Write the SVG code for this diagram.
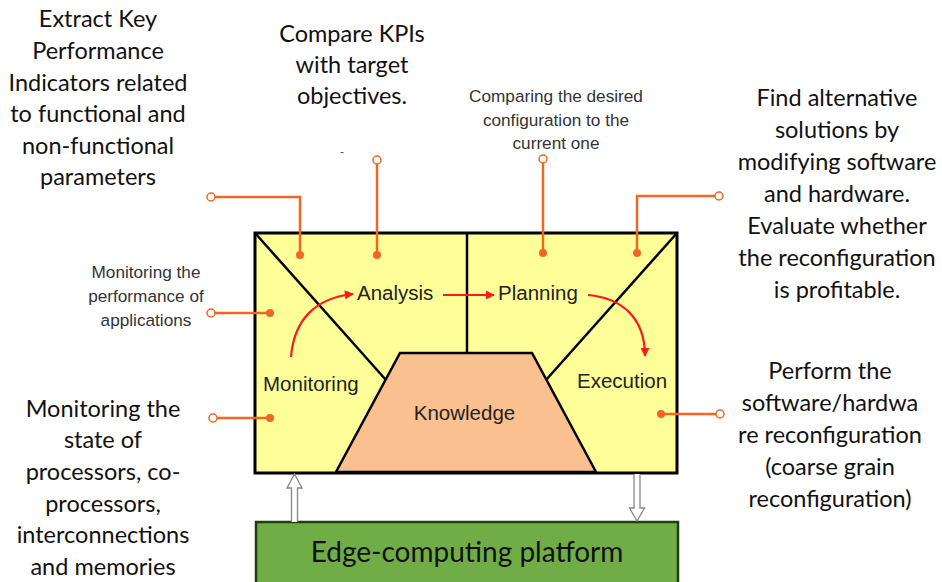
<svg xmlns="http://www.w3.org/2000/svg" width="942" height="582" viewBox="0 0 942 582">
<style>
.big{font-family:Lato,"Open Sans","Liberation Sans",sans-serif;font-size:23.5px;fill:#111;text-anchor:middle}
.small{font-family:"Liberation Sans",Arial,sans-serif;font-size:17.2px;fill:#333;text-anchor:middle}
.lbl{font-family:"Liberation Sans",Arial,sans-serif;font-size:20.5px;fill:#222}
.co{stroke:#F26522;stroke-width:2.5;fill:none}
.dot{fill:#F26522}
.oc{fill:#fff;stroke:#F26522;stroke-width:1.5}
.red{stroke:#FF1A1A;stroke-width:2.2;fill:none;marker-end:url(#ah)}
.hol{fill:#fff;stroke:#888;stroke-width:1.3}
</style>
<defs>
<marker id="ah" viewBox="0 0 10 10" refX="9" refY="5" markerWidth="11" markerHeight="9" markerUnits="userSpaceOnUse" orient="auto">
<path d="M0,0 L10,5 L0,10 z" fill="#FF1A1A"/>
</marker>
</defs>
<rect width="942" height="582" fill="#fff"/>

<g id="mape">
<rect x="255" y="233" width="422" height="240" fill="#FFFF99" stroke="#000" stroke-width="3"/>
<line x1="467" y1="233" x2="467" y2="353" stroke="#000" stroke-width="2.5"/>
<line x1="255" y1="233" x2="386" y2="380" stroke="#000" stroke-width="2.5"/>
<line x1="677" y1="233" x2="546" y2="380" stroke="#000" stroke-width="2.5"/>
</g>
<g id="knowledge">
<polygon points="400,353 532,353 596,472 336,472" fill="#FAC090" stroke="#000" stroke-width="2.5"/>
<text class="lbl" x="464.5" y="420" text-anchor="middle">Knowledge</text>
</g>
<g id="analysis"><text class="lbl" x="357" y="300">Analysis</text></g>
<g id="planning"><text class="lbl" x="498" y="300">Planning</text></g>
<g id="monitoring"><text class="lbl" x="263" y="391">Monitoring</text></g>
<g id="execution"><text class="lbl" x="577" y="388">Execution</text></g>

<g id="platform">
<rect x="256" y="522" width="422" height="64" fill="#70AD47" stroke="#1F3D10" stroke-width="2.5"/>
<text x="467" y="562" font-family="Lato,'Open Sans','Liberation Sans',sans-serif" font-size="28" fill="#111" text-anchor="middle">Edge-computing platform</text>
</g>

<g id="note-kpi">
<text class="big" x="98" y="27">Extract Key</text>
<text class="big" x="98" y="59">Performance</text>
<text class="big" x="98" y="91">Indicators related</text>
<text class="big" x="98" y="122">to functional and</text>
<text class="big" x="98" y="154">non-functional</text>
<text class="big" x="98" y="185">parameters</text>
</g>
<g id="note-compare">
<text class="big" x="352" y="42">Compare KPIs</text>
<text class="big" x="352" y="73">with target</text>
<text class="big" x="352" y="104">objectives.</text>
<text x="342" y="156" font-family="Liberation Sans,sans-serif" font-size="12" fill="#555" text-anchor="middle">-</text>
</g>
<g id="note-desired">
<text class="small" x="556" y="102">Comparing the desired</text>
<text class="small" x="556" y="126">configuration to the</text>
<text class="small" x="556" y="149">current one</text>
</g>
<g id="note-alt">
<text class="big" x="837" y="106">Find alternative</text>
<text class="big" x="837" y="138">solutions by</text>
<text class="big" x="837" y="170">modifying software</text>
<text class="big" x="837" y="202">and hardware.</text>
<text class="big" x="837" y="234">Evaluate whether</text>
<text class="big" x="837" y="266">the reconfiguration</text>
<text class="big" x="837" y="298">is profitable.</text>
</g>
<g id="note-perform">
<text class="big" x="830" y="379">Perform the</text>
<text class="big" x="830" y="411">software/hardwa</text>
<text class="big" x="830" y="443">re reconfiguration</text>
<text class="big" x="830" y="475">(coarse grain</text>
<text class="big" x="830" y="507">reconfiguration)</text>
</g>
<g id="note-perf">
<text class="small" x="146" y="278">Monitoring the</text>
<text class="small" x="146" y="302">performance of</text>
<text class="small" x="146" y="326">applications</text>
</g>
<g id="note-state">
<text class="big" x="103" y="417">Monitoring the</text>
<text class="big" x="103" y="448">state of</text>
<text class="big" x="103" y="480">processors, co-</text>
<text class="big" x="103" y="512">processors,</text>
<text class="big" x="103" y="543">interconnections</text>
<text class="big" x="103" y="575">and memories</text>
</g>

<g id="connectors">
<polyline class="co" points="211,197 300,197 300,255"/>
<circle class="dot" cx="300" cy="255" r="4"/><circle class="oc" cx="211" cy="197" r="4"/>
<line class="co" x1="377" y1="160" x2="377" y2="255"/>
<circle class="dot" cx="377" cy="255" r="4"/><circle class="oc" cx="377" cy="160" r="4"/>
<line class="co" x1="543" y1="159" x2="543" y2="253"/>
<circle class="dot" cx="543" cy="253" r="4"/><circle class="oc" cx="543" cy="159" r="4"/>
<polyline class="co" points="719,196 637,196 637,253"/>
<circle class="dot" cx="637" cy="253" r="4"/><circle class="oc" cx="719" cy="196" r="4"/>
<line class="co" x1="211" y1="313" x2="270" y2="313"/>
<circle class="dot" cx="270" cy="313" r="4"/><circle class="oc" cx="211" cy="313" r="4"/>
<line class="co" x1="213" y1="418" x2="270" y2="418"/>
<circle class="dot" cx="270" cy="418" r="4"/><circle class="oc" cx="213" cy="418" r="4"/>
<line class="co" x1="661" y1="414" x2="720" y2="414"/>
<circle class="dot" cx="661" cy="414" r="4"/><circle class="oc" cx="720" cy="414" r="4"/>

<path class="red" d="M291,357 C294,320 315,298 353,294"/>
<line class="red" x1="443" y1="295" x2="494" y2="295"/>
<path class="red" d="M588,295 C622,298 645,318 645,356"/>

<path class="hol" d="M291.5,522 L291.5,488 L287,488 L294.5,474 L302,488 L297.5,488 L297.5,522"/>
<path class="hol" d="M634,474 L634,508 L629.5,508 L637,521 L644.5,508 L640,508 L640,474"/>
</g>
</svg>
